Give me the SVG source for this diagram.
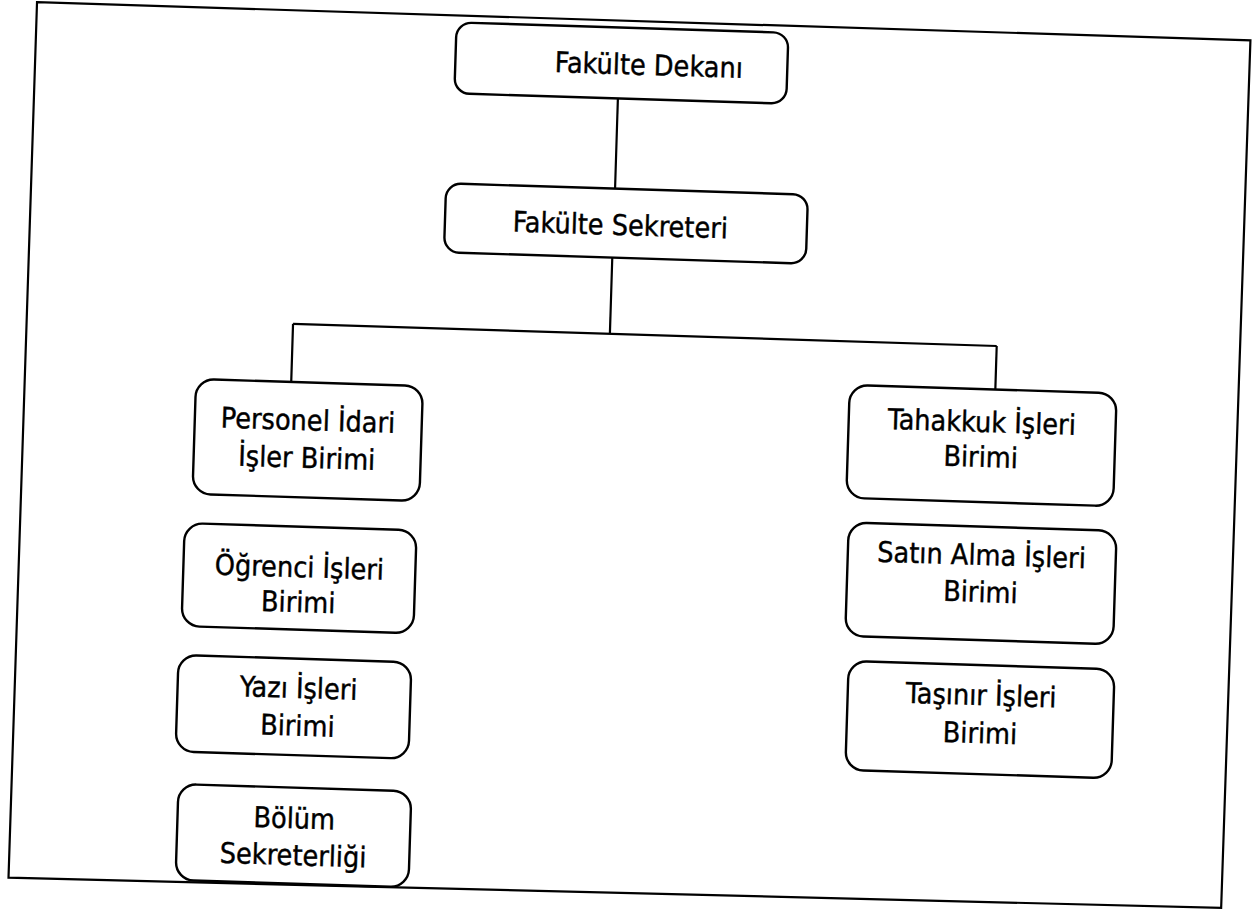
<svg xmlns="http://www.w3.org/2000/svg" width="1255" height="911" viewBox="0 0 1255 911">
<style>
.box{fill:#fff;stroke:#000;stroke-width:2.4}
.ln{fill:none;stroke:#000;stroke-width:2.2}
.t{font-family:"DejaVu Sans Condensed","DejaVu Sans",sans-serif;font-stretch:condensed;font-size:28.5px;fill:#000;stroke:#000;stroke-width:0.4;text-anchor:middle}
</style>
<rect x="0" y="0" width="1255" height="911" fill="#fff"/>
<g transform="rotate(1.8 629 458)">
<polygon id="frame" class="ln" points="23,21 1237,21 1235,889 22,897"/>
<g id="connectors" class="ln">
<line x1="606.6" y1="98.7" x2="606.6" y2="189"/>
<line x1="606" y1="258" x2="606" y2="334.5"/>
<line x1="289" y1="334.5" x2="993" y2="334.5"/>
<line x1="289" y1="334.5" x2="289" y2="393"/>
<line x1="993" y1="334.5" x2="993" y2="378"/>
</g>
<g id="dekan"><rect class="box" x="443" y="28" width="332" height="71" rx="15"/><text class="t" x="636.5" y="74.6">Fakülte Dekanı</text></g>
<g id="sekreter"><rect class="box" x="437.6" y="189.2" width="362" height="69" rx="15"/><text class="t" x="613" y="235.4">Fakülte Sekreteri</text></g>
<g id="personel"><rect class="box" x="193.8" y="392.6" width="227" height="115" rx="18"/><text class="t" x="307" y="440.3">Personel İdari</text><text class="t" x="307" y="478">İşler Birimi</text></g>
<g id="ogrenci"><rect class="box" x="187" y="537" width="232" height="103" rx="18"/><text class="t" x="303" y="587.4">Öğrenci İşleri</text><text class="t" x="303" y="622.4">Birimi</text></g>
<g id="yazi"><rect class="box" x="185" y="669" width="233" height="96.5" rx="18"/><text class="t" x="306" y="708.3">Yazı İşleri</text><text class="t" x="306" y="746">Birimi</text></g>
<g id="bolum"><rect class="box" x="189" y="798" width="233" height="96" rx="18"/><text class="t" x="305.8" y="838.5">Bölüm</text><text class="t" x="305.8" y="875.5">Sekreterliği</text></g>
<g id="tahakkuk"><rect class="box" x="847.4" y="378" width="267" height="113" rx="18"/><text class="t" x="980.5" y="420.9">Tahakkuk İşleri</text><text class="t" x="980.5" y="455.9">Birimi</text></g>
<g id="satin"><rect class="box" x="850.7" y="515.5" width="268" height="113.5" rx="18"/><text class="t" x="984.5" y="553.9">Satın Alma İşleri</text><text class="t" x="984.5" y="590.9">Birimi</text></g>
<g id="tasinir"><rect class="box" x="855" y="654" width="266" height="109" rx="18"/><text class="t" x="988.5" y="694">Taşınır İşleri</text><text class="t" x="988.5" y="732">Birimi</text></g>
</g>
</svg>
